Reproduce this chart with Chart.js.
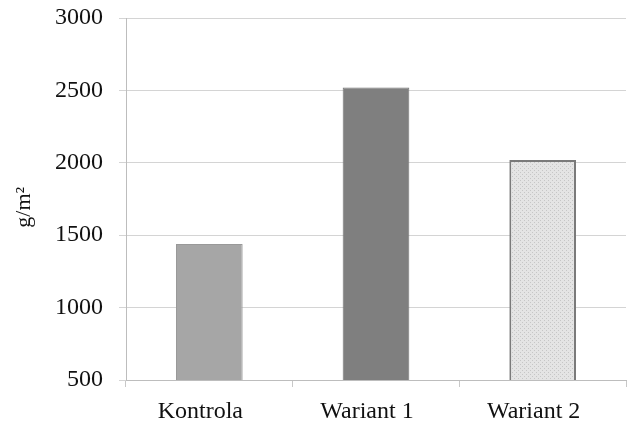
<!DOCTYPE html>
<html>
<head>
<meta charset="utf-8">
<script src="https://cdn.jsdelivr.net/npm/chart.js@4"></script>
<style>
  html, body { margin: 0; padding: 0; background: #fff; }
  #wrap { width: 627px; height: 426px; }
</style>
</head>
<body>
<div id="wrap"><canvas id="chart"></canvas></div>
<script>
const categories = ['Kontrola', 'Wariant 1', 'Wariant 2'];
const values = [1440, 2520, 2020];
const yTicks = [500, 1000, 1500, 2000, 2500, 3000];

function dotPattern() {
  const c = document.createElement('canvas');
  c.width = 4; c.height = 4;
  const ctx = c.getContext('2d');
  ctx.fillStyle = '#e4e4e4';
  ctx.fillRect(0, 0, 4, 4);
  ctx.fillStyle = '#c6c6c6';
  ctx.fillRect(0, 0, 1, 1);
  ctx.fillRect(2, 2, 1, 1);
  return ctx.createPattern(c, 'repeat');
}

const serif = '"Liberation Serif", "DejaVu Serif", serif';

new Chart(document.getElementById('chart'), {
  type: 'bar',
  data: {
    labels: categories,
    datasets: [{
      data: values,
      backgroundColor: ['#a6a6a6', '#7f7f7f', dotPattern()],
      borderColor: ['#999999', '#737373', '#7a7a7a'],
      borderWidth: [1, 1, 2],
      barPercentage: 0.4,
      categoryPercentage: 1
    }]
  },
  options: {
    responsive: true,
    maintainAspectRatio: false,
    animation: false,
    layout: { padding: { top: 18, right: 1, left: 0, bottom: 0 } },
    plugins: { legend: { display: false }, tooltip: { enabled: false } },
    scales: {
      x: {
        offset: true,
        afterFit: axis => { axis.height = 46; },
        grid: { offset: true, drawOnChartArea: false, tickLength: 7, color: '#c8c8c8' },
        border: { color: '#bdbdbd' },
        ticks: { color: '#111', font: { family: serif, size: 24 }, padding: 10, maxRotation: 0, labelOffset: -9 }
      },
      y: {
        min: 500,
        max: 3000,
        // fixed width, and no extra room reserved above/below for the end labels
        afterFit: axis => {
          axis.width = 126;
          axis.paddingTop = 0;
          axis.paddingBottom = 0;
        },
        afterBuildTicks: axis => { axis.ticks = yTicks.map(v => ({ value: v })); },
        grid: { tickLength: 7, color: '#d4d4d4' },
        border: { color: '#bdbdbd' },
        ticks: { color: '#111', font: { family: serif, size: 24 }, padding: 16, callback: v => String(v) },
        title: { display: true, text: 'g/m²\u2002 ', color: '#111', font: { family: serif, size: 22 }, padding: { top: 11, bottom: 0 } }
      }
    }
  }
});
</script>
</body>
</html>
